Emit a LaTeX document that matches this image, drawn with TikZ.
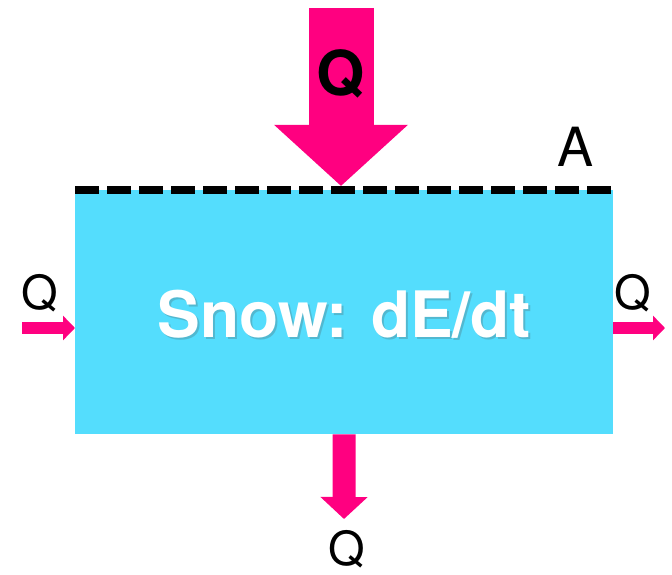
\documentclass[tikz,border=0pt]{standalone}
\usepackage{fontspec}
\setmainfont{TeX Gyre Heros}
\usetikzlibrary{arrows.meta,positioning}
\definecolor{fluxpink}{RGB}{255,0,128}
\definecolor{snowcyan}{RGB}{84,221,253}

\begin{document}
\begin{tikzpicture}[x=1pt, y=-1pt,
  flux/.style={draw=fluxpink, line cap=butt},
  lab/.style={inner sep=0pt, anchor=base, font=\fontsize{47}{47}\selectfont}]
  \useasboundingbox (0,0) rectangle (672,575);
  \node[fill=snowcyan, minimum width=538pt, minimum height=244pt,
        inner sep=0pt, anchor=north west] (box) at (75,190) {};
  \draw[line width=8pt, dash pattern=on 24pt off 8pt]
    (box.north west) -- (box.north east);
  % fluxes
  \coordinate (qin) at (341,8);
  \coordinate (qtip) at (341,186);
  \draw[flux, line width=65pt, -{Triangle[length=61pt, width=130pt]}]
    (qin) -- (qtip);
  \coordinate (lin) at (22,328);
  \draw[flux, line width=12pt, -{Triangle[length=12pt, width=24pt]}]
    (lin) -- (box.west |- lin);
  \coordinate (rout) at (665,328);
  \draw[flux, line width=12pt, -{Triangle[length=12pt, width=24pt]}]
    (box.east |- rout) -- (rout);
  \coordinate (bout) at (344,519);
  \draw[flux, line width=23pt, -{Triangle[length=22pt, width=46pt]}]
    (box.south) -- (bout);
  % labels
  \node[lab, font=\fontsize{62}{62}\selectfont\bfseries] (qtop) at (341,96) {Q};
  \node[lab, font=\fontsize{54}{54}\selectfont] (area) at (576,166) {A};
  \node[lab] (qleft) at (40,309) {Q};
  \node[lab] (qright) at (633,309) {Q};
  \node[lab] (qbottom) at (347,565) {Q};
  \node[lab, font=\fontsize{64}{64}\selectfont\bfseries, text=black!70,
        opacity=0.25] (shadow) at (346.5,339.5) {Snow: dE/dt};
  \node[lab, font=\fontsize{64}{64}\selectfont\bfseries, text=white]
    (title) at (344.5,337) {Snow: dE/dt};
\end{tikzpicture}
\end{document}
